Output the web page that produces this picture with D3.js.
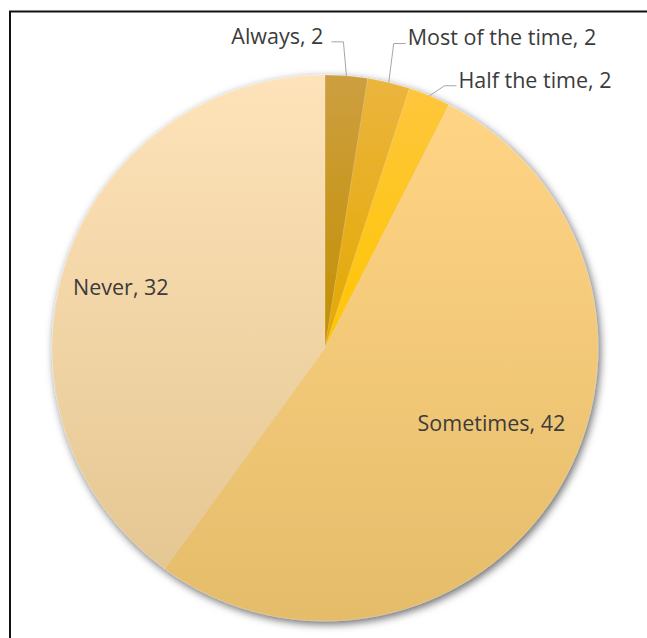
<!DOCTYPE html>
<meta charset="utf-8">
<script src="https://cdn.jsdelivr.net/npm/d3@7"></script>
<style>
body {margin: 0; background: #fff;}
.label {font-family: "Open Sans", sans-serif; font-size: 21.5px; fill: #3b3b3b;}
.leader {fill: none; stroke: #a6a6a6; stroke-width: 1;}
</style>

<div id="vis"></div>

<script>

// Data
const categories = ["Always", "Most of the time", "Half the time", "Sometimes", "Never"];
const values = [2, 2, 2, 42, 32];

// Top / bottom colours of each slice's gradient
const topColors = ["#cd9f40", "#ebb53e", "#fec63c", "#ffd585", "#fee3ba"];
const bottomColors = ["#c38f00", "#e4a800", "#ffc600", "#e5bc6a", "#e5c792"];

const w = 647, h = 638;
const cx = 325, cy = 348, r = 273;

let svg = d3.select("#vis")
  .append("svg")
  .attr("width", w)
  .attr("height", h);

// frame (only top and left edges visible in the crop)
svg.append("rect")
  .attr("x", 10).attr("y", 11.5)
  .attr("width", 800).attr("height", 800)
  .attr("fill", "none")
  .attr("stroke", "#111")
  .attr("stroke-width", 2);

let defs = svg.append("defs");

let shadow = defs.append("filter")
  .attr("id", "shadow")
  .attr("x", "-10%").attr("y", "-10%")
  .attr("width", "120%").attr("height", "120%");
shadow.append("feDropShadow")
  .attr("dx", 2).attr("dy", 3)
  .attr("stdDeviation", 4)
  .attr("flood-color", "#000")
  .attr("flood-opacity", 0.6);

categories.forEach((c, i) => {
  let grad = defs.append("linearGradient")
    .attr("id", "grad" + i)
    .attr("x1", 0).attr("y1", 0)
    .attr("x2", 0).attr("y2", 1);
  grad.append("stop").attr("offset", "0%").attr("stop-color", topColors[i]);
  grad.append("stop").attr("offset", "100%").attr("stop-color", bottomColors[i]);
});

const data = categories.map((c, i) => ({name: c, value: values[i], i: i}));

let pie = d3.pie().sort(null).value(d => d.value);
let arc = d3.arc().innerRadius(0).outerRadius(r);
const arcs = pie(data);

let g = svg.append("g")
  .attr("transform", "translate(" + cx + "," + cy + ")");

g.append("g")
  .attr("filter", "url(#shadow)")
  .selectAll("path")
  .data(arcs)
  .enter().append("path")
    .attr("d", arc)
    .attr("fill", d => "url(#grad" + d.data.i + ")")
    .attr("stroke", "rgba(255,255,255,0.25)")
    .attr("stroke-width", 0.5);

// Labels inside the two large slices
const insideLayout = {
  "Sometimes": {k: 0.67, nudge: -7},
  "Never": {k: 0.78, nudge: -1.5}
};

const mid = d => (d.startAngle + d.endAngle) / 2;

g.selectAll(".label-in")
  .data(arcs.filter(d => insideLayout[d.data.name]))
  .enter().append("text")
    .attr("class", "label")
    .attr("text-anchor", "middle")
    .attr("dy", "0.35em")
    .attr("x", d => {
      let L = insideLayout[d.data.name];
      let a = mid(d) + L.nudge * Math.PI / 180;
      return Math.sin(a) * r * L.k;
    })
    .attr("y", d => {
      let L = insideLayout[d.data.name];
      let a = mid(d) + L.nudge * Math.PI / 180;
      return -Math.cos(a) * r * L.k;
    })
    .text(d => d.data.name + ", " + d.data.value);

// Callout labels for the small slices: elbow offset from the edge point
const calloutLayout = {
  "Always": {dx: -3, dy: -34, side: -1, gap: 8},
  "Most of the time": {dx: 5, dy: -39, side: 1, gap: 2},
  "Half the time": {dx: 15, dy: -10, side: 1, gap: 2}
};

const small = arcs.filter(d => calloutLayout[d.data.name]);

small.forEach(d => {
  let L = calloutLayout[d.data.name];
  let ex = Math.sin(mid(d)) * r, ey = -Math.cos(mid(d)) * r;
  let bx = ex + L.dx, by = ey + L.dy;
  let tx = bx + L.side * 12;
  g.append("polyline")
    .attr("class", "leader")
    .attr("points", [[ex, ey], [bx, by], [tx, by]].map(p => p.join(",")).join(" "));
  g.append("text")
    .attr("class", "label")
    .attr("text-anchor", L.side < 0 ? "end" : "start")
    .attr("x", tx + L.side * L.gap)
    .attr("y", by)
    .attr("dy", "0.08em")
    .text(d.data.name + ", " + d.data.value);
});

</script>
